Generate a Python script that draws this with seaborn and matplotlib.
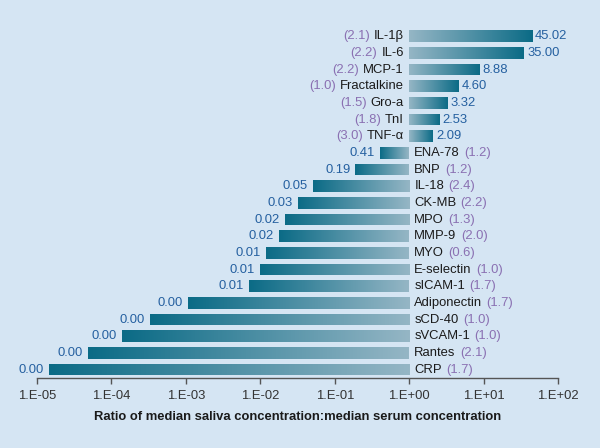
import numpy as np
import pandas as pd
import matplotlib
matplotlib.use('Agg')
import matplotlib.pyplot as plt
import seaborn as sns
from matplotlib.colors import LinearSegmentedColormap
from matplotlib.ticker import FixedLocator, FuncFormatter

# Dados: razao saliva:soro (mediana) e valores entre parenteses
marcadores = ['IL-1β', 'IL-6', 'MCP-1', 'Fractalkine', 'Gro-a', 'TnI', 'TNF-α',
              'ENA-78', 'BNP', 'IL-18', 'CK-MB', 'MPO', 'MMP-9', 'MYO',
              'E-selectin', 'sICAM-1', 'Adiponectin', 'sCD-40', 'sVCAM-1',
              'Rantes', 'CRP']
razao = [45.02, 35.00, 8.88, 4.60, 3.32, 2.53, 2.09,
         0.41, 0.19, 0.051, 0.032, 0.0215, 0.018, 0.012,
         0.0099, 0.0071, 0.00107, 0.00033, 0.000138,
         0.000049, 0.0000145]
parenteses = ['2.1', '2.2', '2.2', '1.0', '1.5', '1.8', '3.0',
              '1.2', '1.2', '2.4', '2.2', '1.3', '2.0', '0.6',
              '1.0', '1.7', '1.7', '1.0', '1.0', '2.1', '1.7']
decadas = [-5, -4, -3, -2, -1, 0, 1, 2]

fundo = '#d5e5f3'
escuro = '#0b6b86'
claro = '#95b6c5'
azul = '#2560a0'
roxo = '#8a70b2'

df = pd.DataFrame({'marcador': marcadores, 'razao': razao})
df['log_razao'] = np.log10(df['razao'])

sns.set_style('white')
plt.rcParams['font.family'] = ['Liberation Sans', 'DejaVu Sans']

fig = plt.figure(figsize=(6, 4.48), dpi=100, facecolor=fundo)
ax = fig.add_axes([0.0617, 0.1563, 0.8683, 0.7812])
ax.set_facecolor(fundo)

sns.barplot(data=df, x='log_razao', y='marcador', orient='h', width=0.7,
            color=escuro, linewidth=0, ax=ax)

# Gradiente: escuro na ponta, claro na base (1.E+00)
cmap = LinearSegmentedColormap.from_list('grad', [claro, escuro])
for p in ax.patches:
    x0, y0 = p.get_x(), p.get_y()
    w, h = p.get_width(), p.get_height()
    grad = np.linspace(0, 1, 256).reshape(1, -1)
    if w < 0:
        grad = grad[:, ::-1]
    left, right = min(x0, x0 + w), max(x0, x0 + w)
    im = ax.imshow(grad, cmap=cmap, aspect='auto',
                   extent=[left, right, y0 + h, y0], zorder=p.get_zorder())
    im.set_clip_path(p)
    p.set_facecolor('none')
    p.set_edgecolor('none')

fs = 9.4
for i, (nome, v, par) in enumerate(zip(marcadores, razao, parenteses)):
    lv = np.log10(v)
    if v >= 1:
        t = ax.text(-0.07, i, nome, ha='right', va='center', fontsize=fs, color='#1a1a1a')
        ax.annotate('(' + par + ')', xy=(0, 0), xycoords=t, xytext=(-3, 0),
                    textcoords='offset points', ha='right', va='bottom',
                    fontsize=fs, color=roxo)
        ax.text(lv + 0.04, i, f'{v:.2f}', ha='left', va='center', fontsize=fs, color=azul)
    else:
        t = ax.text(0.07, i, nome, ha='left', va='center', fontsize=fs, color='#1a1a1a')
        ax.annotate('(' + par + ')', xy=(1, 0), xycoords=t, xytext=(3, 0),
                    textcoords='offset points', ha='left', va='bottom',
                    fontsize=fs, color=roxo)
        ax.text(lv - 0.07, i, f'{v:.2f}', ha='right', va='center', fontsize=fs, color=azul)

ax.set_xlim(decadas[0], decadas[-1])
ax.set_ylim(len(marcadores) - 0.5, -0.5)
ax.xaxis.set_major_locator(FixedLocator(decadas))
ax.xaxis.set_major_formatter(FuncFormatter(lambda x, pos: f'1.E{int(round(x)):+03d}'))
ax.tick_params(axis='x', direction='out', length=4, width=1, color='#555555',
               labelsize=fs, labelcolor='#333333', pad=5, bottom=True)
ax.set_yticks([])
ax.set_ylabel('')
ax.set_xlabel('Ratio of median saliva concentration:median serum concentration',
              fontsize=fs, fontweight='bold', color='#1a1a1a', labelpad=6)
for s in ['top', 'left', 'right']:
    ax.spines[s].set_visible(False)
ax.spines['bottom'].set_color('#555555')
ax.spines['bottom'].set_linewidth(1)

fig.savefig('out.png', dpi=100, facecolor=fundo)
